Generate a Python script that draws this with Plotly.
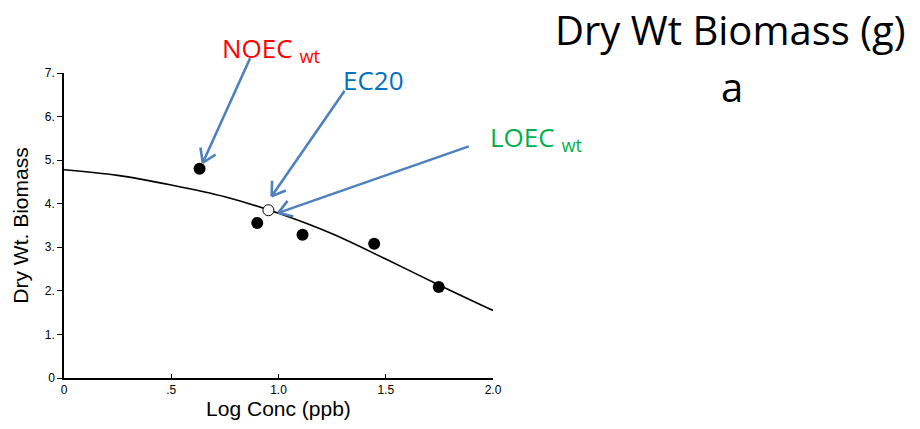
import math
import plotly.graph_objects as go

# ---- data ----
ctrl_x = [-0.02, -0.02]
ctrl_y = [5.77, 4.51]
treat_x = [0.632, 0.901, 1.112, 1.446, 1.747]
treat_y = [4.80, 3.56, 3.29, 3.08, 2.09]
ec20_x = [0.953]
ec20_y = [3.85]
curve_x = [0.0, 0.25, 0.5, 0.75, 1.0, 1.25, 1.5, 1.75, 2.0]
curve_y = [4.78, 4.65, 4.43, 4.16, 3.78, 3.31, 2.73, 2.13, 1.55]

x_tickvals = [0, 0.5, 1.0, 1.5, 2.0]
x_ticktext = ["0", ".5", "1.0", "1.5", "2.0"]
y_tickvals = [0, 1, 2, 3, 4, 5, 6, 7]
y_ticktext = ["0", "1.", "2.", "3.", "4.", "5.", "6.", "7."]

W, H = 920, 429
OFF = 8  # page body margin
PW, PH = 430, 305.2
ML, MT = 63.5 - OFF, 73.3 - OFF
MR, MB = W - ML - PW, H - MT - PH
AX_FONT = "Liberation Sans, Arial, sans-serif"
LBL_FONT = "Open Sans, Lato, sans-serif"
ARROW_COL = "#4F81BD"


def px_x(p):
    return (p - OFF - ML) / PW


def px_y(p):
    return (MT + PH - (p - OFF)) / PH


fig = go.Figure()
fig.add_trace(go.Scatter(x=curve_x, y=curve_y, mode="lines",
                         line=dict(color="black", width=1.6, shape="spline",
                                   smoothing=1.0),
                         cliponaxis=False, hoverinfo="skip"))
fig.add_trace(go.Scatter(x=treat_x, y=treat_y, mode="markers",
                         marker=dict(size=12, color="black"), cliponaxis=False))
fig.add_trace(go.Scatter(x=ctrl_x + ec20_x, y=ctrl_y + ec20_y, mode="markers",
                         marker=dict(size=11, color="white",
                                     line=dict(color="black", width=1)),
                         cliponaxis=False))

annotations = []
# arrows: tip (data), tail offset (px)
arrows = [
    (0.647, 4.94, 48, -106),
    (0.968, 4.17, 74, -107),
    (0.999, 3.79, 192, -67),
]
for tx, ty, ax, ay in arrows:
    annotations.append(dict(x=tx, y=ty, xref="x", yref="y", ax=ax, ay=ay,
                            axref="pixel", ayref="pixel", text="",
                            showarrow=True, arrowhead=0, arrowwidth=2.6,
                            arrowcolor=ARROW_COL, standoff=0, startstandoff=0))
    ang = math.atan2(ay, ax)
    for s in (-1, 1):
        a = ang + s * math.radians(33)
        annotations.append(dict(x=tx, y=ty, xref="x", yref="y",
                                ax=17 * math.cos(a), ay=17 * math.sin(a),
                                axref="pixel", ayref="pixel", text="",
                                showarrow=True, arrowhead=0, arrowwidth=2.6,
                                arrowcolor=ARROW_COL, standoff=0, startstandoff=0))

labels = [
    ("NOEC <sub>wt</sub>", "#FF0000", 220, 49),
    ("EC20", "#0070C0", 341, 80),
    ("LOEC <sub>wt</sub>", "#00B050", 488, 138),
]
for txt, col, lx, ly in labels:
    annotations.append(dict(x=px_x(lx), y=px_y(ly), xref="paper", yref="paper",
                            text=txt, showarrow=False, xanchor="left",
                            yanchor="middle",
                            font=dict(family=LBL_FONT, size=26, color=col)))

annotations.append(dict(x=px_x(731), y=px_y(30), xref="paper", yref="paper",
                        text="Dry Wt Biomass (g)", showarrow=False,
                        xanchor="center", yanchor="middle",
                        font=dict(family=LBL_FONT, size=40, color="black")))
annotations.append(dict(x=px_x(733), y=px_y(87), xref="paper", yref="paper",
                        text="a", showarrow=False,
                        xanchor="center", yanchor="middle",
                        font=dict(family=LBL_FONT, size=40, color="black")))

fig.update_layout(
    width=W, height=H,
    margin=dict(l=ML, r=MR, t=MT, b=MB, pad=0, autoexpand=False),
    paper_bgcolor="white", plot_bgcolor="white",
    showlegend=False,
    annotations=annotations,
    font=dict(family=AX_FONT, color="black"),
    xaxis=dict(range=[0, 2.0], showgrid=False, zeroline=False,
               showline=True, linecolor="black", linewidth=1.5,
               ticks="inside", ticklen=4, tickcolor="black",
               tickvals=x_tickvals, ticktext=x_ticktext,
               tickfont=dict(size=12, family=AX_FONT), automargin=False,
               title=dict(text="Log Conc (ppb)", standoff=4,
                          font=dict(size=21, family=AX_FONT))),
    yaxis=dict(range=[0, 7], showgrid=False, zeroline=False,
               showline=True, linecolor="black", linewidth=1.5,
               ticks="outside", ticklen=5, tickcolor="black",
               tickvals=y_tickvals, ticktext=y_ticktext,
               tickfont=dict(size=12, family=AX_FONT), automargin=False,
               title=dict(text="Dry Wt. Biomass", standoff=10,
                          font=dict(size=21, family=AX_FONT))),
)

fig.write_html("out.html")
